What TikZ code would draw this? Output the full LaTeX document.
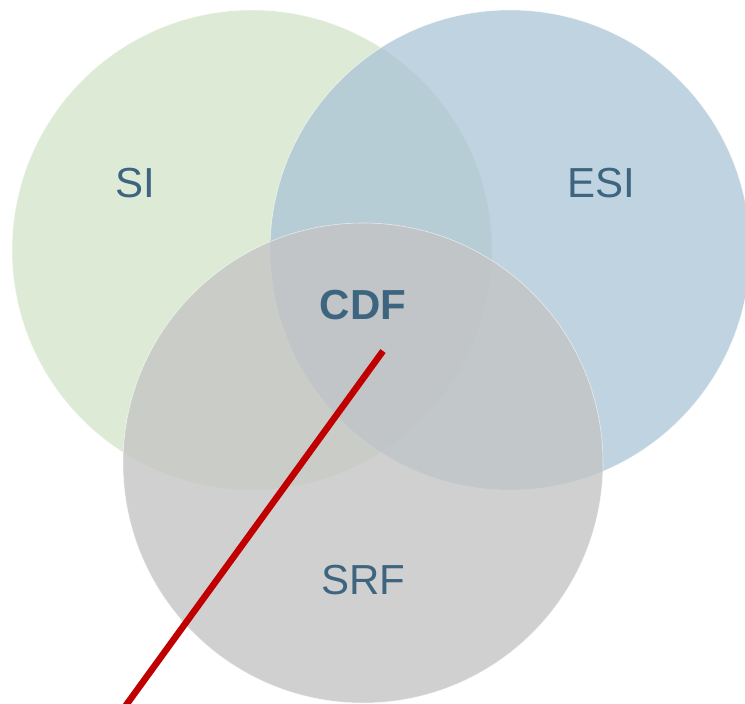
\documentclass[tikz,border=0pt]{standalone}
\usepackage{fontspec}
\setmainfont{Liberation Sans}
\definecolor{siGreen}{RGB}{221,235,214}
\definecolor{esiBlue}{RGB}{172,197,214}
\definecolor{srfGray}{RGB}{196,196,196}
\definecolor{labelBlue}{RGB}{62,101,128}
\definecolor{lineRed}{RGB}{192,0,0}
\begin{document}
\begin{tikzpicture}[x=1pt,y=-1pt,
  setcircle/.style={circle, minimum size=480pt, inner sep=0pt, draw=white, draw opacity=0.6, line width=0.6pt},
  setlabel/.style={text=labelBlue, font=\fontsize{42}{50}\selectfont, inner sep=0pt},
  pointer/.style={draw=lineRed, line width=6.5pt}]
  \useasboundingbox (0,0) rectangle (745,704);
  % the three sets
  \node[setcircle, fill=siGreen] (si) at (252,250) {};
  \node[setcircle, fill=esiBlue, fill opacity=0.765] (esi) at (510,250) {};
  \node[setcircle, fill=srfGray, fill opacity=0.79] (srf) at (363,463) {};
  % set names
  \node[setlabel] (siLabel) at (135,183) {SI};
  \node[setlabel] (esiLabel) at (601,183) {ESI};
  \node[setlabel] (srfLabel) at (363,580) {SRF};
  \node[setlabel, font=\fontsize{42}{50}\selectfont\bfseries] (cdfLabel) at (363,305) {CDF};
  % pointer into the common core
  \coordinate (tipTop) at (383,351);
  \coordinate (tipEnd) at (124,708);
  \draw[pointer] (tipTop) -- (tipEnd);
\end{tikzpicture}
\end{document}
